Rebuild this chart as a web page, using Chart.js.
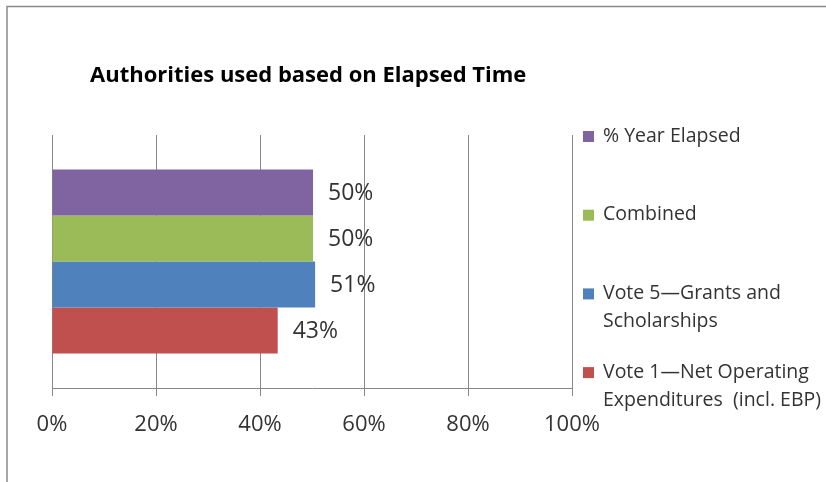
<!DOCTYPE html>
<html>
<head>
<meta charset="utf-8">
<script src="https://cdn.jsdelivr.net/npm/chart.js@4.4.1/dist/chart.umd.min.js"></script>
<style>
  body { margin: 0; background: #fff; }
  #chart { display: block; }
</style>
</head>
<body>
<canvas id="chart" width="826" height="482"></canvas>
<script>
// data
var titleText = 'Authorities used based on Elapsed Time';
var seriesNames = [
    ['% Year Elapsed'],
    ['Combined'],
    ['Vote 5\u2014Grants and', 'Scholarships'],
    ['Vote 1\u2014Net Operating', 'Expenditures  (incl. EBP)']
];
var seriesValues = [50.2, 50.2, 50.6, 43.4];
var seriesColors = ['#8064A2', '#9BBB59', '#4F81BD', '#C0504D'];
var tickValues = [0, 20, 40, 60, 80, 100];

var textFont = '"Open Sans", "Liberation Sans", sans-serif';

var datasets = seriesNames.map(function (name, i) {
    return {
        label: name.join(' '),
        data: [seriesValues[i]],
        backgroundColor: seriesColors[i],
        borderWidth: 0,
        categoryPercentage: 0.727,
        barPercentage: 1
    };
});

// frame, title, value labels and legend
var extras = {
    id: 'extras',
    beforeDraw: function (chart) {
        var c = chart.ctx;
        c.save();
        c.strokeStyle = '#8a8a8a';
        c.lineWidth = 1.5;
        c.beginPath();
        c.moveTo(7, chart.height);
        c.lineTo(7, 6.5);
        c.lineTo(chart.width, 6.5);
        c.stroke();
        c.restore();
    },
    afterDraw: function (chart) {
        var c = chart.ctx;
        var area = chart.chartArea;
        c.save();

        c.fillStyle = '#000';
        c.font = 'bold 22px ' + textFont;
        c.textBaseline = 'middle';
        c.textAlign = 'left';
        c.fillText(titleText, area.left + 38, 76);

        c.font = '23px ' + textFont;
        c.fillStyle = '#333';
        chart.data.datasets.forEach(function (ds, i) {
            var bar = chart.getDatasetMeta(i).data[0];
            c.fillText(Math.round(ds.data[0]) + '%', bar.x + 15, bar.y + 1);
        });

        c.font = '19.5px ' + textFont;
        var lx = area.right + 11;
        seriesNames.forEach(function (lines, i) {
            var y = area.top + 1 + i * 78.7;
            c.fillStyle = seriesColors[i];
            c.fillRect(lx, y - 5, 11, 11);
            c.fillStyle = '#333';
            lines.forEach(function (t, k) {
                c.fillText(t, lx + 20, y + k * 28);
            });
        });
        c.restore();
    }
};

new Chart(document.getElementById('chart'), {
    type: 'bar',
    data: {
        labels: [''],
        datasets: datasets
    },
    options: {
        indexAxis: 'y',
        responsive: false,
        animation: false,
        layout: {
            padding: { left: 52, right: 254, top: 135, bottom: 0 }
        },
        plugins: {
            legend: { display: false },
            title: { display: false },
            tooltip: { enabled: false }
        },
        scales: {
            y: { display: false },
            x: {
                min: 0,
                max: 100,
                afterFit: function (scale) { scale.height = 94; },
                afterBuildTicks: function (scale) {
                    scale.ticks = tickValues.map(function (v) { return { value: v }; });
                },
                ticks: {
                    padding: 16,
                    color: '#333',
                    font: { family: textFont, size: 22 },
                    callback: function (v) { return v + '%'; }
                },
                grid: { color: '#888', tickLength: 8 },
                border: { color: '#888' }
            }
        }
    },
    plugins: [extras]
});
</script>
</body>
</html>
